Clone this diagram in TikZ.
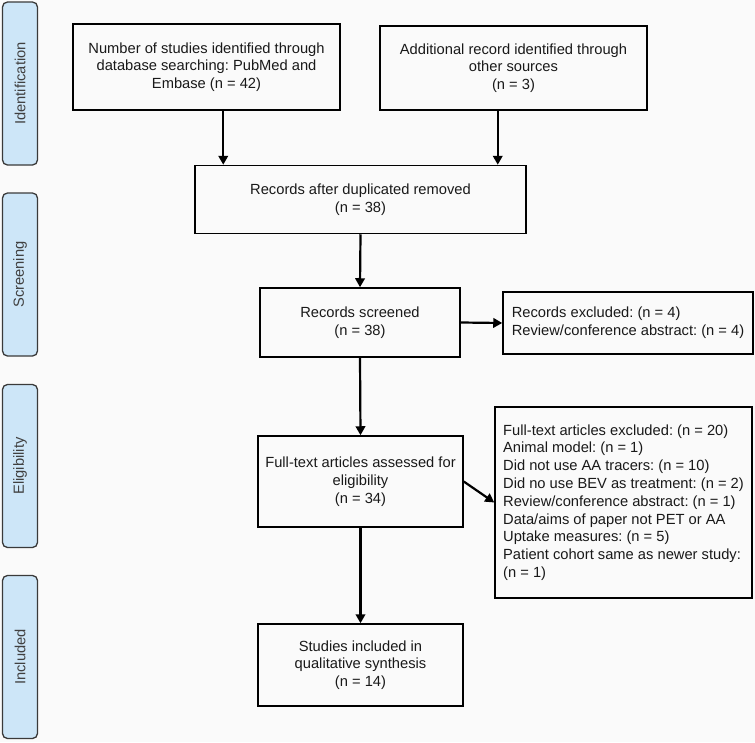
\documentclass[tikz,border=0pt]{standalone}
\usepackage{fontspec}
\setmainfont{Liberation Sans}
\usetikzlibrary{arrows.meta}
\definecolor{barblue}{RGB}{205,230,248}
\definecolor{bargray}{RGB}{58,58,58}
\definecolor{paper}{RGB}{250,250,250}
\frenchspacing

\begin{document}
\begin{tikzpicture}[x=1pt,y=-1pt,
  every node/.style={font=\fontsize{14.7}{17.8}\selectfont,text=black!90},
  phase/.style={draw=bargray,line width=1.3pt,fill=barblue,rounded corners=5pt,minimum width=35,minimum height=163,inner sep=0pt},
  flowbox/.style={draw,line width=1.5pt,align=center,inner sep=0pt},
  listbox/.style={draw,line width=1.5pt,align=left,inner sep=0pt},
  flowarrow/.style={line width=2.2pt,-{Triangle[length=9pt,width=9.5pt]}}]
\fill[paper] (0,0) rectangle (755,742);
\useasboundingbox (0,0) rectangle (755,742);
\node[phase] (ident) at (20,83.5) {};
\node[rotate=90,text=black!75] at (ident) {Identification};
\node[phase] (screen) at (20,274.5) {};
\node[rotate=90,text=black!75] at (screen) {Screening};
\node[phase] (elig) at (20,466) {};
\node[rotate=90,text=black!75] at (elig) {Eligibility};
\node[phase] (incl) at (20,657) {};
\node[rotate=90,text=black!75] at (incl) {Included};
\node[flowbox,minimum width=267,minimum height=86] (db) at (206.5,67) {Number of studies identified through\\database searching: PubMed and\\Embase (n = 42)};
\node[flowbox,minimum width=267,minimum height=84] (other) at (513.5,68) {Additional record identified through\\other sources\\(n = 3)};
\node[flowbox,minimum width=331,minimum height=68] (dedup) at (360.5,199.5) {Records after duplicated removed\\(n = 38)};
\node[flowbox,minimum width=200,minimum height=69] (screened) at (360,322.5) {Records screened\\(n = 38)};
\node[listbox,minimum width=250,minimum height=62] (excl) at (628,323) {Records excluded: (n = 4)\\Review/conference abstract: (n = 4)};
\node[listbox,minimum width=257,minimum height=191] (ftexcl) at (623.5,502.5) {Full-text articles excluded: (n = 20)\\Animal model: (n = 1)\\Did not use AA tracers: (n = 10)\\Did no use BEV as treatment: (n = 2)\\Review/conference abstract: (n = 1)\\Data/aims of paper not PET or AA\\Uptake measures: (n = 5)\\Patient cohort same as newer study:\\(n = 1)};
\node[flowbox,minimum width=205,minimum height=91] (fulltext) at (360.5,481.5) {Full-text articles assessed for\\eligibility\\(n = 34)};
\node[flowbox,minimum width=205,minimum height=82] (studies) at (360.5,665) {Studies included in\\qualitative synthesis\\(n = 14)};
\draw[flowarrow] ([xshift=29pt]dedup.north west |- db.south) -- ([xshift=29pt]dedup.north west);
\draw[flowarrow] ([xshift=-29pt]dedup.north east |- other.south) -- ([xshift=-29pt]dedup.north east);
\draw[flowarrow] (dedup.south) -- (screened.north);
\draw[flowarrow] (screened.east) -- (excl.west);
\draw[flowarrow] (screened.south) -- (fulltext.north);
\draw[flowarrow] (fulltext.east) -- (ftexcl.west);
\draw[flowarrow] (fulltext.south) -- (studies.north);
\end{tikzpicture}
\end{document}
